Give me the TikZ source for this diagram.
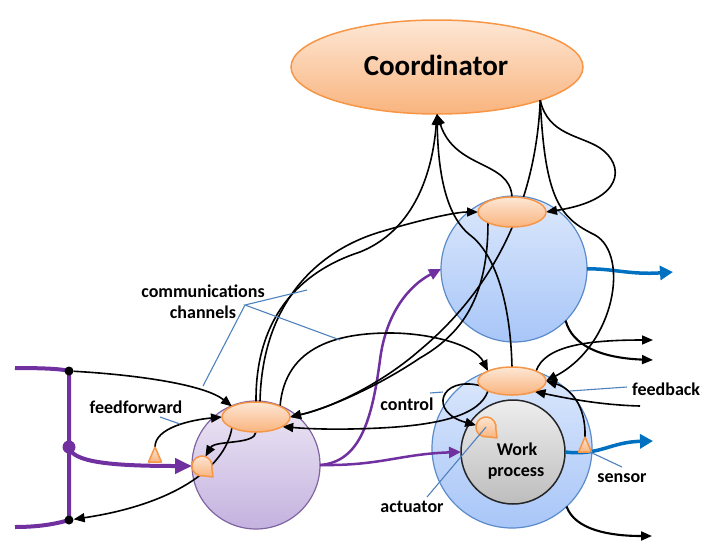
\documentclass[tikz,border=0pt]{standalone}
\usepackage{fontspec}
\setmainfont{Carlito}
\usetikzlibrary{arrows.meta,shapes.geometric}
\pgfdeclarelayer{back}
\pgfdeclarelayer{mid}
\pgfsetlayers{back,mid,main}

\definecolor{orEdge}{HTML}{F79646}
\definecolor{orTop}{HTML}{FDE7D5}
\definecolor{orBot}{HTML}{F9B47E}
\definecolor{bluEdge}{HTML}{5B8BC9}
\definecolor{bluTop}{HTML}{DCE8FC}
\definecolor{bluBot}{HTML}{A8C6F8}
\definecolor{purEdge}{HTML}{8064A2}
\definecolor{purTop}{HTML}{EDE7F5}
\definecolor{purBot}{HTML}{C4B2DF}
\definecolor{gryTop}{HTML}{EEEEEE}
\definecolor{gryBot}{HTML}{BDBDBD}
\definecolor{flow}{HTML}{7030A0}
\definecolor{outflow}{HTML}{0070C0}
\definecolor{leader}{HTML}{4F81BD}

\begin{document}
\begin{tikzpicture}[x=1pt,y=-1pt,
  orangeshape/.style={draw=orEdge, line width=1.5pt, top color=orTop, bottom color=orBot, inner sep=0pt, outer sep=0pt},
  ctl/.style={orangeshape, ellipse, minimum width=68pt, minimum height=30pt},
  sysbase/.style={circle, inner sep=0pt, outer sep=0pt, line width=1.2pt},
  bluesys/.style={sysbase, draw=bluEdge, top color=bluTop, bottom color=bluBot},
  pursys/.style={sysbase, draw=purEdge, top color=purTop, bottom color=purBot},
  worksys/.style={sysbase, draw=black!85, line width=1.5pt, top color=gryTop, bottom color=gryBot},
  anchorpt/.style={circle, inner sep=0pt, outer sep=0pt, minimum size=20pt},
  bubble/.style={draw=orEdge, line width=1.5pt, line join=round, top color=orTop, bottom color=orBot},
  blackdot/.style={circle, fill=black, inner sep=0pt, minimum size=9pt},
  flowdot/.style={circle, fill=flow, inner sep=0pt, minimum size=13pt},
  msg/.style={draw=black, line width=1.6pt, -{Triangle[length=11pt,width=9pt]}},
  msgheavy/.style={msg, line width=2.1pt},
  rail/.style={draw=flow, line width=4pt},
  feed/.style={draw=flow, line width=4pt, -{Triangle[length=17pt,width=15pt]}},
  flowarrow/.style={draw=flow, line width=2.5pt, -{Triangle[length=12pt,width=11pt]}},
  outarrow/.style={draw=outflow, line width=3.5pt, -{Triangle[length=13pt,width=14pt]}},
  lead/.style={draw=leader, line width=1.1pt},
  lbl/.style={font=\bfseries\fontsize{18}{20}\selectfont, anchor=base, inner sep=0pt}
]
\useasboundingbox (0,0) rectangle (701,541);

% ---------- systems (back layer) ----------
\begin{pgfonlayer}{back}
  \node[orangeshape, ellipse, minimum width=292pt, minimum height=94pt] (coord) at (437,67) {};
  \node[bluesys, minimum size=146pt] (sysA) at (514,269) {};
  \node[bluesys, minimum size=160pt] (sysB) at (512,448) {};
  \node[pursys, minimum size=128pt] (sysC) at (256,465) {};
  \node[worksys, minimum size=104pt] (work) at (513,452) {};
\end{pgfonlayer}

% ---------- controllers, actuators, sensors ----------
\node[ctl] (ctlA) at (512,212) {};
\node[ctl, minimum height=28pt] (ctlB) at (512,381) {};
\node[ctl] (ctlC) at (256,417) {};

\node[anchorpt] (actB) at (486,427) {};
\node[anchorpt] (actC) at (202,466) {};
\draw[bubble] (actB.center) ++(-10:10pt) arc[start angle=-10, end angle=280, radius=10pt]
  -- ([shift={(11pt,-11pt)}]actB.center) -- cycle;
\draw[bubble] (actC.center) ++(-10:10pt) arc[start angle=-10, end angle=280, radius=10pt]
  -- ([shift={(11pt,-11pt)}]actC.center) -- cycle;

\coordinate (snsB) at (585,437);
\coordinate (snsC) at (155,447);

% ---------- junction dots on the input rail ----------
\node[blackdot] (dTop) at (69,371) {};
\node[blackdot] (dBot) at (69,520) {};
\node[flowdot] (dMid) at (69,447) {};
\coordinate (railTop) at (15,368);
\coordinate (railBot) at (15,527);

% free ends of outgoing signals and flows
\coordinate (outA) at (673,272);
\coordinate (outB) at (653,441);
\coordinate (outC) at (653,340);
\coordinate (outD) at (653,360);
\coordinate (outE) at (652,536);
\coordinate (fbIn) at (640,406);

% ---------- connectors (middle layer) ----------
\begin{pgfonlayer}{mid}
  % material flows
  \draw[rail] (railTop) .. controls (45,368) and (62,369) .. (dTop.center)
    -- (dBot.center) .. controls (62,522) and (45,527) .. (railBot);
  \draw[feed] (dMid.center) .. controls (72,462) and (110,466) .. (actC.west);
  \draw[flowarrow] (sysC.east) .. controls (360,462) and (372,420) .. (380,360)
    .. controls (386,312) and (410,285) .. (sysA.west);
  \draw[flowarrow] (sysC.east) .. controls (380,466) and (400,454) .. (work.west);
  \draw[outarrow] (sysA.east) .. controls (610,268) and (630,275) .. (outA);
  \draw[outarrow] (work.east) .. controls (600,456) and (610,442) .. (outB);

  % reports to the coordinator
  \draw[msg] (ctlA.north) .. controls (510,160) and (455,170) .. (coord.south);
  \draw[msg] (ctlC.north) .. controls (255,300) and (320,265) .. (360,252)
    .. controls (410,232) and (432,180) .. (coord.south);
  \draw[msg] (ctlB.north) .. controls (510,290) and (490,250) .. (470,235)
    .. controls (445,215) and (438,170) .. (coord.south);

  % coordinator commands
  \draw[msg] (coord.south east) .. controls (548,135) and (580,135) .. (600,148)
    .. controls (625,165) and (625,200) .. (ctlA.east);
  \draw[msg] (coord.south east) .. controls (535,220) and (480,300) .. (420,350)
    .. controls (380,385) and (330,408) .. (ctlC.east);
  \draw[msg] (coord.south east) .. controls (545,200) and (560,218) .. (595,235)
    .. controls (630,255) and (615,345) .. (ctlB.east);

  % peer channels
  \draw[msg] (ctlC.75) .. controls (262,300) and (320,250) .. (380,232)
    .. controls (420,220) and (455,212) .. (ctlA.west);
  \draw[msg] (ctlA.south west) .. controls (488,300) and (460,335) .. (420,358)
    .. controls (380,385) and (330,408) .. (ctlC.east);
  \draw[msg] (ctlC.north east) .. controls (285,345) and (340,333) .. (390,333)
    .. controls (430,333) and (475,345) .. (ctlB.north west);
  \draw[msg] (ctlB.south west) .. controls (480,415) and (440,425) .. (380,428)
    .. controls (340,430) and (310,429) .. (ctlC.-20);

  % feedback and control in the lower system
  \draw[msg] (snsB) .. controls (586,405) and (570,388) .. (ctlB.east);
  \draw[msg] (fbIn) .. controls (600,405) and (565,398) .. (ctlB.-25);
  \draw[msg] (ctlB.188) .. controls (440,376) and (428,412) .. (actB.170);
  \draw[msg] (ctlB.north east) .. controls (545,345) and (590,340) .. (outC);
  \draw[msgheavy] (sysA.-45) .. controls (572,345) and (600,358) .. (outD);
  \draw[msgheavy] (sysB.-47) .. controls (575,530) and (610,536) .. (outE);

  % feedforward and control in the left system
  \draw[msg] (dTop) .. controls (140,375) and (205,385) .. (ctlC.north west);
  \draw[msg] (snsC) .. controls (155,428) and (190,420) .. (ctlC.west);
  \draw[msg] (ctlC.south) .. controls (255,445) and (215,440) .. (actC.70);
  \draw[msg] (ctlC.south west) .. controls (225,470) and (170,505) .. (dBot);
\end{pgfonlayer}

% sensors drawn over the flows
\draw[bubble] (snsB) -- ++(6.5,15) -- ++(-13,0) -- cycle;
\draw[bubble] (snsC) -- ++(6.5,15) -- ++(-13,0) -- cycle;

% ---------- label leaders ----------
\coordinate (commHub) at (245,305);
\coordinate (commA) at (307,290);
\coordinate (commB) at (340,340);
\coordinate (commC) at (203,386);
\draw[lead] (commA) -- (commHub) -- (commB);
\draw[lead] (commHub) -- (commC);
\draw[lead] (160,417) -- (180,424);
\draw[lead] (430,393) -- (443,392);
\draw[lead] (570,391) -- (627,387);
\draw[lead] (590,452) -- (622,467);
\draw[lead] (actB.center) -- (427,497);

% ---------- labels ----------
\node[font=\bfseries\fontsize{29}{32}\selectfont, anchor=base, inner sep=0pt] (lblCoord) at (436,75) {Coordinator};
\node[lbl] (lblComm1) at (203,297) {communications};
\node[lbl] (lblComm2) at (203,318) {channels};
\node[lbl] (lblFF) at (136,413) {feedforward};
\node[lbl] (lblCtl) at (407,410) {control};
\node[lbl, anchor=base west] (lblFB) at (632,395) {feedback};
\node[lbl] (lblSns) at (622,482) {sensor};
\node[lbl] (lblAct) at (412,512) {actuator};
\node[lbl] (lblWork1) at (517,455) {Work};
\node[lbl] (lblWork2) at (516,476) {process};
\end{tikzpicture}
\end{document}
